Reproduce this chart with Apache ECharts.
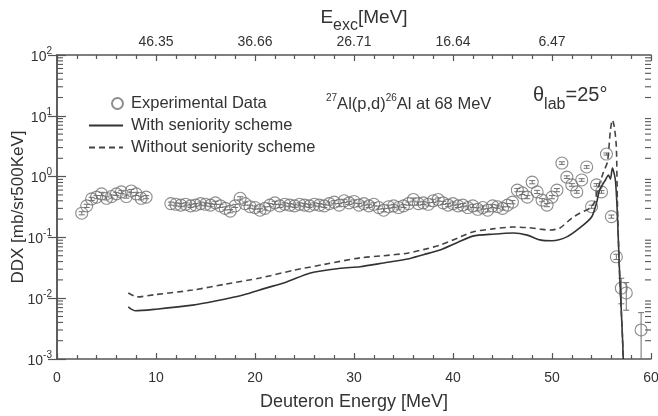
<!DOCTYPE html>
<html>
<head>
<meta charset="utf-8">
<script src="https://cdn.jsdelivr.net/npm/echarts@6/dist/echarts.min.js"></script>
<style>
html,body{margin:0;padding:0;background:#fff;}
#chart{width:658px;height:416px;}
</style>
</head>
<body>
<div id="chart"></div>
<script>
// ---- Data ----
const bottomTickLabels = ['0','10','20','30','40','50','60'];
const topTickLabels = ['', '46.35', '36.66', '26.71', '16.64', '6.47', ''];
const yExponents = ['-3','-2','-1','0','1','2'];

// Experimental data: deuteron energy (MeV), DDX (mb/sr/500keV), relative error
const expE = [2.5,3.0,3.5,4.0,4.5,5.0,5.5,6.0,6.5,7.0,7.5,8.0,8.5,9.0,
  11.5,12.0,12.5,13.0,13.5,14.0,14.5,15.0,15.5,16.0,16.5,17.0,17.5,18.0,18.5,19.0,19.5,20.0,20.5,21.0,
  21.5,22.0,22.5,23.0,23.5,24.0,24.5,25.0,25.5,26.0,26.5,27.0,27.5,28.0,28.5,29.0,29.5,30.0,30.5,31.0,
  31.5,32.0,32.5,33.0,33.5,34.0,34.5,35.0,35.5,36.0,36.5,37.0,37.5,38.0,38.5,39.0,39.5,40.0,40.5,41.0,
  41.5,42.0,42.5,43.0,43.5,44.0,44.5,45.0,45.5,46.0,
  46.5,47.0,47.5,48.0,48.5,49.0,49.5,50.0,50.5,51.0,51.5,52.0,52.5,53.0,53.5,54.0,54.5,55.0,55.5,56.0,
  56.5,57.0,57.5,59.0];
const expV = [0.25,0.33,0.43,0.46,0.52,0.44,0.47,0.52,0.56,0.47,0.58,0.52,0.44,0.46,
  0.36,0.35,0.34,0.35,0.33,0.34,0.36,0.35,0.34,0.37,0.33,0.30,0.27,0.33,0.44,0.36,0.32,0.31,0.28,0.30,
  0.34,0.37,0.33,0.35,0.34,0.33,0.35,0.34,0.33,0.35,0.34,0.33,0.36,0.38,0.34,0.40,0.37,0.39,0.34,0.36,
  0.33,0.35,0.31,0.28,0.32,0.33,0.31,0.33,0.36,0.42,0.36,0.37,0.35,0.40,0.42,0.37,0.34,0.36,0.33,0.34,
  0.31,0.33,0.29,0.31,0.28,0.33,0.32,0.30,0.34,0.38,
  0.60,0.54,0.46,0.81,0.56,0.41,0.34,0.46,0.60,1.67,0.98,0.73,0.56,0.88,1.44,0.32,0.73,0.56,2.35,0.22,
  0.048,0.0147,0.0122,0.0030];
const expErr = [0.06,0.06,0.06,0.06,0.06,0.06,0.06,0.06,0.06,0.06,0.06,0.06,0.06,0.06,
  0.06,0.06,0.06,0.06,0.06,0.06,0.06,0.06,0.06,0.06,0.06,0.06,0.06,0.06,0.06,0.06,0.06,0.06,0.06,0.06,
  0.06,0.06,0.06,0.06,0.06,0.06,0.06,0.06,0.06,0.06,0.06,0.06,0.06,0.06,0.06,0.06,0.06,0.06,0.06,0.06,
  0.06,0.06,0.06,0.06,0.06,0.06,0.06,0.06,0.06,0.06,0.06,0.06,0.06,0.06,0.06,0.06,0.06,0.06,0.06,0.06,
  0.06,0.06,0.06,0.06,0.06,0.06,0.06,0.06,0.06,0.06,
  0.06,0.06,0.06,0.06,0.06,0.06,0.06,0.06,0.06,0.05,0.05,0.05,0.05,0.05,0.05,0.06,0.05,0.05,0.04,0.06,
  0.10,0.45,0.48,0.93];

// Calculation: with seniority scheme
const withE = [7.2,7.5,7.9,10.0,13.7,16.0,18.8,21.0,23.2,25.6,28.6,30.6,33.0,35.4,37.0,38.7,40.5,42.0,44.0,46.1,
  47.5,48.8,50.0,51.5,52.8,54.0,54.5,54.8,55.4,55.7,55.9,56.1,56.4,56.6,56.8,57.1,57.2];
const withV = [0.0072,0.0066,0.0062,0.0066,0.0077,0.0090,0.0113,0.0145,0.0185,0.026,0.031,0.033,0.038,0.044,0.052,0.062,0.083,0.105,0.113,0.118,
  0.109,0.091,0.088,0.102,0.143,0.217,0.37,0.60,0.88,1.06,0.91,1.38,0.88,0.25,0.033,0.0027,0.001];

// Calculation: without seniority scheme
const withoutE = [7.2,8.1,10.0,13.7,17.0,20.5,24.0,27.0,30.6,33.0,35.4,37.0,38.7,40.5,42.0,44.0,46.1,47.5,48.8,49.8,
  50.8,52.0,52.8,53.8,54.3,54.6,55.2,55.6,55.9,56.1,56.3,56.5,56.6,56.8,57.1,57.2];
const withoutV = [0.0122,0.0105,0.0115,0.0136,0.0170,0.0215,0.029,0.036,0.046,0.050,0.055,0.063,0.075,0.098,0.123,0.138,0.148,0.145,0.137,0.132,
  0.143,0.208,0.25,0.30,0.38,0.60,1.19,1.74,5.8,8.5,6.5,3.07,0.41,0.033,0.0027,0.001];

const legendNames = ['Experimental Data', 'With seniority scheme', 'Without seniority scheme'];

// ---- Build ----
const expData = expE.map((e, i) => [e, expV[i], expErr[i]]);
const withData = withE.map((e, i) => [e, withV[i]]);
const withoutData = withoutE.map((e, i) => [e, withoutV[i]]);
const minorTickVals = [];
for (let d = -3; d < 2; d++) for (let m = 2; m <= 9; m++) minorTickVals.push([m * Math.pow(10, d)]);

const AX = '#555';
const TXT = '#333';
const NARROW = '"Liberation Sans Narrow","Arial Narrow","Liberation Sans",sans-serif';
const SANS = '"Liberation Sans",Arial,sans-serif';

const chart = echarts.init(document.getElementById('chart'), null, {renderer: 'canvas'});
chart.setOption({
  backgroundColor: '#fff',
  animation: false,
  grid: {left: 57, right: 7, top: 55, bottom: 57, outerBoundsMode: 'none', containLabel: false},
  legend: {
    orient: 'vertical', left: 83, top: 90, itemWidth: 34, itemHeight: 11, itemGap: 5,
    textStyle: {fontSize: 16.5, color: TXT, fontFamily: SANS, padding: [0, 0, 0, 3]},
    data: [
      {name: legendNames[0], icon: 'path://M0,5.5L0.01,5.5M23,5.5A5.5,5.5,0,1,0,34,5.5A5.5,5.5,0,1,0,23,5.5Z'},
      {name: legendNames[1], itemStyle: {opacity: 0}},
      {name: legendNames[2], itemStyle: {opacity: 0}}
    ]
  },
  xAxis: [{
    type: 'value', min: 0, max: 60, interval: 10, position: 'bottom',
    axisLine: {lineStyle: {color: AX, width: 1.5}},
    axisTick: {inside: true, length: 6, lineStyle: {color: AX, width: 1.2}},
    minorTick: {show: true, splitNumber: 5, length: 4, lineStyle: {color: AX, width: 1.2}},
    splitLine: {show: false},
    axisLabel: {margin: 12, fontSize: 14, color: TXT, fontFamily: NARROW,
      formatter: v => bottomTickLabels[Math.round(v / 10)]},
    name: 'Deuteron Energy [MeV]', nameLocation: 'middle', nameGap: 34, nameMoveOverlap: false,
    nameTextStyle: {fontSize: 18, color: TXT, fontFamily: SANS}
  }, {
    type: 'value', min: 0, max: 60, interval: 10, position: 'top',
    axisLine: {lineStyle: {color: AX, width: 1.5}},
    axisTick: {inside: true, length: 6, lineStyle: {color: AX, width: 1.2}},
    minorTick: {show: true, splitNumber: 5, length: 4, lineStyle: {color: AX, width: 1.2}},
    splitLine: {show: false},
    axisLabel: {margin: 6, fontSize: 14, color: TXT, fontFamily: NARROW,
      formatter: v => topTickLabels[Math.round(v / 10)]},
    name: '{a|E}{b|exc}{a|[MeV]}', nameLocation: 'middle', nameGap: 21, nameMoveOverlap: false,
    nameTextStyle: {color: TXT, fontFamily: SANS, padding: [0, 0, 0, 20],
      rich: {a: {fontSize: 19, fontFamily: SANS, color: TXT, verticalAlign: 'top', lineHeight: 26},
             b: {fontSize: 16, fontFamily: SANS, color: TXT, verticalAlign: 'bottom', lineHeight: 26, padding: [8, 0, 0, 0]}}}
  }],
  yAxis: [{
    type: 'log', logBase: 10, min: 0.001, max: 100, splitNumber: 5, position: 'left',
    axisLine: {lineStyle: {color: AX, width: 1.5}},
    axisTick: {inside: true, length: 9, lineStyle: {color: AX, width: 1.2}},
    splitLine: {show: false},
    axisLabel: {margin: 5, color: TXT,
      formatter: v => '{b|10}{s|' + yExponents[Math.round(Math.log10(v)) + 3] + '}',
      rich: {b: {fontSize: 14, fontFamily: NARROW, color: TXT, verticalAlign: 'bottom', lineHeight: 18},
             s: {fontSize: 10, fontFamily: NARROW, color: TXT, verticalAlign: 'top', lineHeight: 18}}},
    name: 'DDX [mb/sr500KeV]', nameLocation: 'middle', nameGap: 30, nameRotate: 90, nameMoveOverlap: false,
    nameTextStyle: {fontSize: 17, color: TXT, fontFamily: SANS}
  }, {
    type: 'log', logBase: 10, min: 0.001, max: 100, splitNumber: 5, position: 'right',
    axisLine: {lineStyle: {color: AX, width: 1.5}},
    axisTick: {inside: true, length: 9, lineStyle: {color: AX, width: 1.2}},
    axisLabel: {show: false}, splitLine: {show: false}
  }],
  graphic: [
    {type: 'text', left: 326, top: 93, style: {
      text: '{s|27}{n|Al(p,d)}{s|26}{n|Al at 68 MeV}',
      rich: {n: {fontSize: 16.5, fontFamily: SANS, fill: TXT, verticalAlign: 'bottom', lineHeight: 20},
             s: {fontSize: 10, fontFamily: SANS, fill: TXT, verticalAlign: 'top', lineHeight: 20}}}},
    {type: 'text', left: 533, top: 85, style: {
      text: '{t|θ}{l|lab}{t|=25°}',
      rich: {t: {fontSize: 20, fontFamily: SANS, fill: TXT, verticalAlign: 'top', lineHeight: 28},
             l: {fontSize: 16, fontFamily: SANS, fill: TXT, verticalAlign: 'bottom', lineHeight: 28}}}}
  ],
  series: [{
    name: legendNames[0], type: 'scatter', data: expData, xAxisIndex: 0, yAxisIndex: 0,
    symbol: 'circle', symbolSize: 12,
    itemStyle: {color: 'rgba(255,255,255,0)', borderColor: '#707070', borderWidth: 1.1},
    z: 3
  }, {
    name: 'errbars', type: 'custom', xAxisIndex: 0, yAxisIndex: 0, data: expData, clip: true, z: 2,
    renderItem: (params, api) => {
      const e = api.value(0), v = api.value(1), r = api.value(2);
      const p1 = api.coord([e, v * (1 + r)]);
      const p0 = api.coord([e, Math.max(v * (1 - r), 1e-6)]);
      const w = 3;
      const st = {stroke: '#707070', lineWidth: 1};
      return {type: 'group', children: [
        {type: 'line', shape: {x1: p0[0], y1: p0[1], x2: p1[0], y2: p1[1]}, style: st},
        {type: 'line', shape: {x1: p0[0] - w, y1: p0[1], x2: p0[0] + w, y2: p0[1]}, style: st},
        {type: 'line', shape: {x1: p1[0] - w, y1: p1[1], x2: p1[0] + w, y2: p1[1]}, style: st}
      ]};
    }
  }, {
    name: legendNames[1], type: 'line', data: withData, xAxisIndex: 0, yAxisIndex: 0,
    symbol: 'none', smooth: 0.25, lineStyle: {color: '#333', width: 1.6}, itemStyle: {color: '#333'}, z: 4
  }, {
    name: legendNames[2], type: 'line', data: withoutData, xAxisIndex: 0, yAxisIndex: 0,
    symbol: 'none', smooth: 0.25, lineStyle: {color: '#444', width: 1.6, type: [6, 4]}, itemStyle: {color: '#444'}, z: 4
  }, {
    name: 'minorTicks', type: 'custom', xAxisIndex: 0, yAxisIndex: 0, data: minorTickVals, clip: false, silent: true,
    renderItem: (params, api) => {
      const v = api.value(0);
      const pl = api.coord([0, v]);
      const pr = api.coord([60, v]);
      const st = {stroke: AX, lineWidth: 1.1};
      return {type: 'group', children: [
        {type: 'line', shape: {x1: pl[0], y1: pl[1], x2: pl[0] + 6, y2: pl[1]}, style: st},
        {type: 'line', shape: {x1: pr[0], y1: pr[1], x2: pr[0] - 6, y2: pr[1]}, style: st}
      ]};
    }
  }]
});
</script>
</body>
</html>
